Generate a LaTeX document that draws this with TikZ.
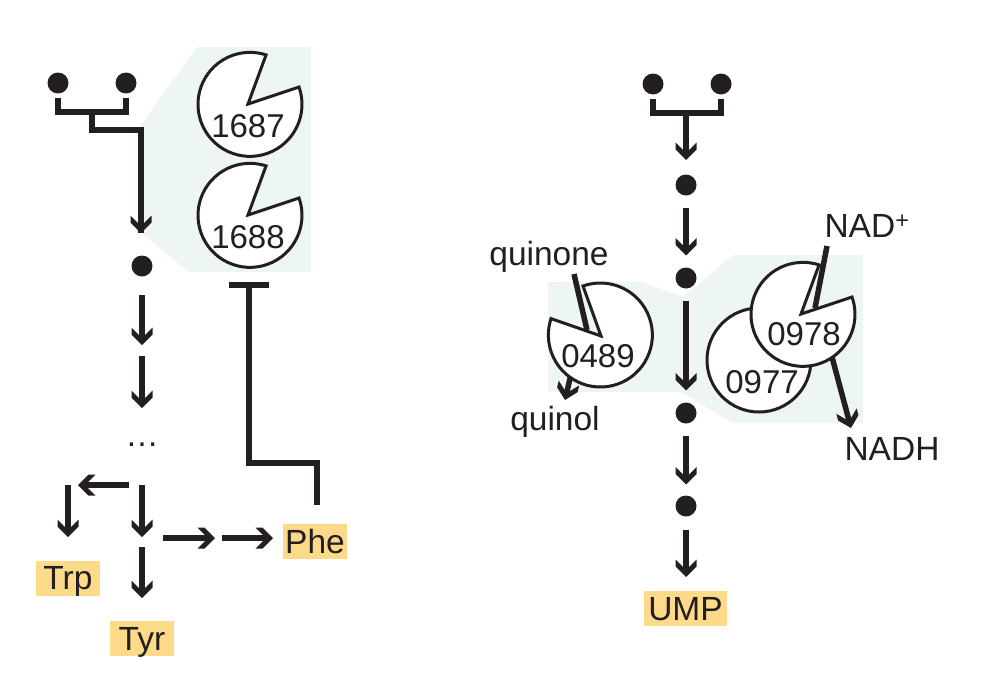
\documentclass[tikz,border=0pt]{standalone}
\usepackage{fontspec}
\setmainfont{Liberation Sans}
\usetikzlibrary{arrows.meta}
\definecolor{ink}{HTML}{231F20}
\definecolor{domain}{HTML}{EEF6F2}
\definecolor{product}{HTML}{FDD98A}
% Heavy chevron head with squared-off wing ends
\pgfdeclarearrow{
  name=Chevron,
  setup code={
    \pgfarrowssettipend{0pt}
    \pgfarrowssetlineend{-9pt}
    \pgfarrowssetbackend{-17.5pt}
    \pgfarrowssetvisualbackend{-9pt}
    \pgfarrowshullpoint{0pt}{0pt}
    \pgfarrowshullpoint{-17.5pt}{10.5pt}
    \pgfarrowshullpoint{-17.5pt}{-10.5pt}
  },
  drawing code={
    \pgfsetfillcolor{ink}
    \pgfpathmoveto{\pgfqpoint{0pt}{0pt}}
    \pgfpathlineto{\pgfqpoint{-10.5pt}{10.5pt}}
    \pgfpathlineto{\pgfqpoint{-17.5pt}{10.5pt}}
    \pgfpathlineto{\pgfqpoint{-10pt}{3pt}}
    \pgfpathlineto{\pgfqpoint{-10pt}{-3pt}}
    \pgfpathlineto{\pgfqpoint{-17.5pt}{-10.5pt}}
    \pgfpathlineto{\pgfqpoint{-10.5pt}{-10.5pt}}
    \pgfpathclose
    \pgfusepathqfill
  }
}
\tikzset{
  x=1pt, y=-1pt,
  every node/.style={inner sep=0pt, outer sep=0pt, text=ink, font=\fontsize{33.5}{36}\selectfont},
  number/.style={font=\fontsize{33}{36}\selectfont},
  dotnode/.style={circle, fill=ink, minimum size=21pt},
  bond/.style={draw=ink, line width=5.5pt, line join=miter},
  flow/.style={draw=ink, line width=5.5pt, -{Chevron}},
  enzyme/.style={draw=ink, fill=white, line width=3pt, line join=miter},
  product box/.style={fill=product, minimum height=35pt, minimum width=64pt, text depth=0pt},
  zone/.style={fill=domain, draw=none},
}
\begin{document}
\begin{tikzpicture}
\useasboundingbox (0,0) rectangle (1000,688);

% shaded enzyme regions
\fill[zone] (197,47) -- (311,47) -- (311,272) -- (189,272) -- (145,236) -- (141,232) -- (141,125) -- cycle;
\fill[zone] (548,282) -- (642,282) -- (683,297) -- (733,255) -- (863,255) -- (863,423) -- (732,423) -- (690,397) -- (680,392) -- (548,392) -- cycle;

% metabolite dots
\node[dotnode] (l1) at (58,83) {};
\node[dotnode] (l2) at (126,83) {};
\node[dotnode] (l3) at (142,266) {};
\node[dotnode] (r1) at (653,84) {};
\node[dotnode] (r2) at (721,84) {};
\node[dotnode] (r3) at (686,185) {};
\node[dotnode] (r4) at (686,278) {};
\node[dotnode] (r5) at (686,413) {};
\node[dotnode] (r6) at (686,506) {};

% end products
\node[product box] (trp) at (68,578) {Trp};
\node[product box] (tyr) at (142,638.5) {Tyr};
\node[product box] (phe) at (315,541.5) {Phe};
\node[product box, minimum width=83pt] (ump) at (685.5,608.5) {UMP};
\node (dots) at (142,445) {…};

% junction points and free ends of the connectors
\coordinate (l1b) at (58,112);
\coordinate (l2b) at (126,112);
\coordinate (lm) at (92,112);
\coordinate (lc1) at (92,130);
\coordinate (lc2) at (141,130);
\coordinate (lc3) at (141,233);
\coordinate (a1) at (142,295);
\coordinate (a2) at (142,345);
\coordinate (a3) at (142,356);
\coordinate (a4) at (142,408);
\coordinate (b1) at (142,485);
\coordinate (b2) at (142,537);
\coordinate (b3) at (142,547);
\coordinate (b4) at (142,598);
\coordinate (c1) at (129,485);
\coordinate (c2) at (78,485);
\coordinate (c3) at (68,485);
\coordinate (c4) at (68,537);
\coordinate (e1) at (163,538);
\coordinate (e2) at (215,538);
\coordinate (e3) at (222,538);
\coordinate (e4) at (273,538);
\coordinate (i1) at (317,505);
\coordinate (i2) at (317,463);
\coordinate (i3) at (249,463);
\coordinate (i4) at (249,285);
\coordinate (i5) at (229,285);
\coordinate (i6) at (269,285);
\coordinate (r1b) at (653,113);
\coordinate (r2b) at (721,113);
\coordinate (rm) at (686,113);
\coordinate (rt) at (686,160);
\coordinate (ue) at (686,577);
\coordinate (q1) at (574,274);
\coordinate (q2) at (587,330);
\coordinate (q3) at (572,370);
\coordinate (q4) at (565,400);
\coordinate (n1) at (827,246);
\coordinate (n2) at (815,308);
\coordinate (n3) at (832,357);
\coordinate (n4) at (851,428);

% left pathway
\draw[bond, shorten <=4pt, shorten >=4pt] (l1.south) -- (l1b) -- (l2b) -- (l2.south);
\draw[bond] (lm) -- (lc1) -- (lc2) -- (lc3);
\draw[flow] (lc2) -- (lc3);
\draw[flow] (a1) -- (a2);
\draw[flow] (a3) -- (a4);
\draw[flow] (b1) -- (b2);
\draw[flow] (b3) -- (b4);
\draw[flow] (c1) -- (c2);
\draw[flow] (c3) -- (c4);
\draw[flow] (e1) -- (e2);
\draw[flow] (e3) -- (e4);
\draw[bond] (i1) -- (i2) -- (i3) -- (i4);
\draw[bond] (i5) -- (i6);

% right pathway
\draw[bond, shorten <=4pt, shorten >=4pt] (r1.south) -- (r1b) -- (r2b) -- (r2.south);
\draw[flow] (rm) -- (rt);
\draw[flow, shorten <=12pt, shorten >=12pt] (r3) -- (r4);
\draw[flow, shorten <=12pt, shorten >=12pt] (r4) -- (r5);
\draw[flow, shorten <=12pt, shorten >=11pt] (r5) -- (r6);
\draw[flow, shorten <=13pt] (r6) -- (ue);

% electron acceptor arrows that leave from under the enzymes
\draw[flow] (q3) -- (q4);
\draw[flow] (n3) -- (n4);

% enzymes, drawn as notched discs
\draw[enzyme] (248,104) -- (299,87) arc[start angle=-19.5, end angle=288, radius=52] -- cycle;
\draw[enzyme] (248,215) -- (299,198) arc[start angle=-19.5, end angle=288, radius=52] -- cycle;
\draw[enzyme] (601,336) -- (583,286) arc[start angle=-109.5, end angle=198.4, radius=52] -- cycle;
\draw[enzyme] (759,360) circle[radius=52];
\draw[enzyme] (801,314) -- (852,297) arc[start angle=-19.5, end angle=288, radius=52] -- cycle;

% substrates entering the notches
\draw[bond] (q1) -- (q2);
\draw[bond] (n1) -- (n2);

% enzyme labels
\node[number] (e1687) at (248,126) {1687};
\node[number] (e1688) at (248,237) {1688};
\node[number] (e0489) at (598,356) {0489};
\node[number] (e0978) at (804,334) {0978};
\node[number] (e0977) at (762,382) {0977};

% cofactor labels
\node (quinone) at (549,256.5) {quinone};
\node (quinol) at (555,422) {quinol};
\node (nadp) at (867,226) {NAD\textsuperscript{+}};
\node (nadh) at (892,449) {NADH};
\end{tikzpicture}
\end{document}
